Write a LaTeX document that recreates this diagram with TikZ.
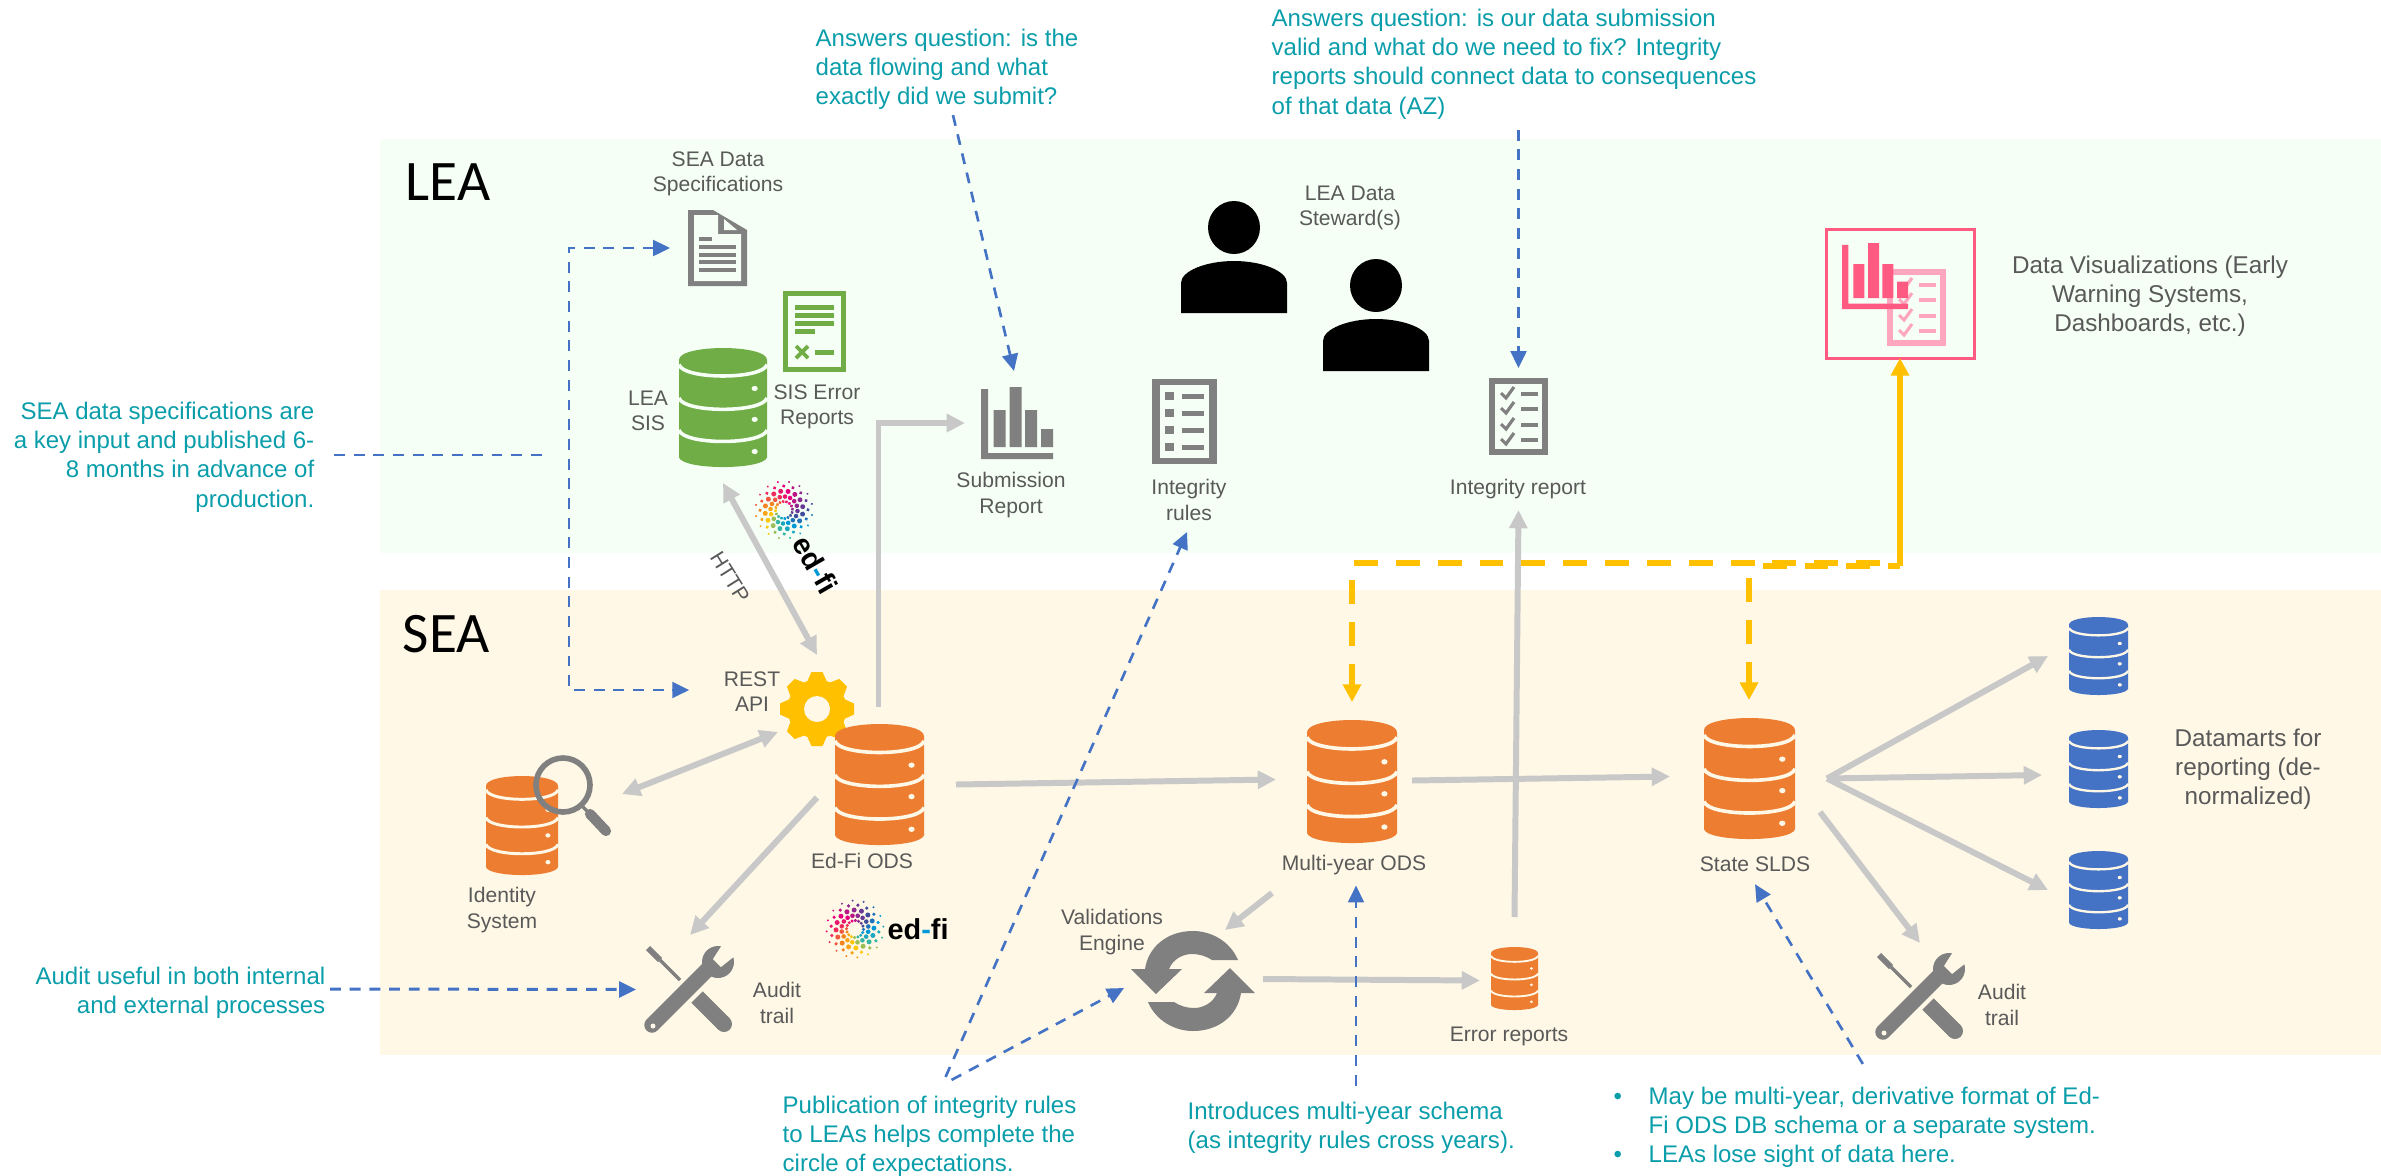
\documentclass[tikz,border=0pt]{standalone}
\usepackage{fontspec}
\setmainfont{Liberation Sans}
\newfontfamily\titlefont{Carlito}
\usetikzlibrary{calc,arrows.meta}

\definecolor{leabg}{RGB}{245,255,245}
\definecolor{seabg}{RGB}{255,248,230}
\definecolor{icongrey}{RGB}{128,128,128}
\definecolor{labelgrey}{RGB}{89,89,89}
\definecolor{arrowgrey}{RGB}{200,200,200}
\definecolor{dbgreen}{RGB}{112,173,71}
\definecolor{dborange}{RGB}{237,125,49}
\definecolor{dbblue}{RGB}{68,114,196}
\definecolor{gearyellow}{RGB}{255,192,0}
\definecolor{tealtext}{RGB}{10,157,170}
\definecolor{vispink}{RGB}{255,91,130}
\definecolor{vislight}{RGB}{255,166,191}
\definecolor{edblue}{RGB}{0,153,216}
\definecolor{edteal}{RGB}{53,182,165}
\definecolor{edyellow}{RGB}{253,199,12}
\definecolor{edorange}{RGB}{245,130,32}
\definecolor{edred}{RGB}{238,42,92}
\definecolor{edmagenta}{RGB}{230,0,126}
\definecolor{edpurple}{RGB}{142,42,143}
\definecolor{ednavy}{RGB}{63,77,156}

\tikzset{
  iconbox/.style={inner sep=0pt, outer sep=0pt, anchor=north west},
  greylabel/.style={inner sep=0pt, align=center, text=labelgrey, font=\fontsize{6pt}{7.15pt}\selectfont},
  biglabel/.style={inner sep=0pt, align=center, text=labelgrey, font=\fontsize{6.9pt}{8.3pt}\selectfont},
  tealnote/.style={inner sep=0pt, text=tealtext, font=\fontsize{6.83pt}{8.3pt}\selectfont},
  regiontitle/.style={inner sep=0pt, anchor=west, font=\titlefont\fontsize{16.3pt}{18pt}\selectfont},
  greyarrow/.style={draw=arrowgrey, line width=1.7pt, -{Triangle[length=5.2pt,width=5pt]}},
  greyboth/.style={draw=arrowgrey, line width=1.7pt, {Triangle[length=5.2pt,width=5pt]}-{Triangle[length=5.2pt,width=5pt]}},
  bluedash/.style={draw=dbblue, line width=0.75pt, dash pattern=on 3.1pt off 2.5pt},
  bluearrow/.style={bluedash, -{Triangle[length=4.8pt,width=4.5pt]}},
  yellowdash/.style={draw=gearyellow, line width=1.55pt, dash pattern=on 6.8pt off 5.1pt},
  yellowarrow/.style={yellowdash, -{Triangle[length=5pt,width=5pt]}},
  yellowsolid/.style={draw=gearyellow, line width=1.55pt, -{Triangle[length=5pt,width=5pt]}}
}

% database stack: name, left, top, width, height, colour, background
\newcommand{\dbicon}[7]{%
  \node[iconbox, minimum width=#4*0.01cm, minimum height=#5*0.01cm] (#1) at (#2,#3) {};
  \begin{scope}[shift={(#2,#3)}, xscale=#4, yscale=#5]
    \fill[#6] (0,0.1) .. controls (0,-0.033) and (1,-0.033) .. (1,0.1) -- (1,0.92)
      .. controls (0.95,1.027) and (0.05,1.027) .. (0,0.92) -- cycle;
    \foreach \e in {0.14,0.42,0.69}
      \draw[#7, line width=#5*0.0085pt] (0,\e) .. controls (0.05,\e+0.127) and (0.95,\e+0.127) .. (1,\e);
    \foreach \e in {0.34,0.6,0.87}
      \fill[#7] (0.86,\e) ellipse [x radius=0.035, y radius=0.022];
  \end{scope}
}

% bar chart: name, left, top, size, colour
\newcommand{\charticon}[5]{%
  \node[iconbox, minimum width=#4*0.01cm, minimum height=#4*0.01cm] (#1) at (#2,#3) {};
  \begin{scope}[shift={(#2,#3)}, scale=#4/72]
    \fill[#5] (0,2) rectangle (7,72) (0,66) rectangle (72,72);
    \fill[#5] (12.5,23) rectangle (24.5,60) (28.5,0) rectangle (40.5,60)
      (44,23) rectangle (56,60) (60,42) rectangle (72,60);
  \end{scope}
}

% checklist page: name, left, top, colour, background
\newcommand{\checkicon}[5]{%
  \node[iconbox, minimum width=59*0.01cm, minimum height=77*0.01cm] (#1) at (#2,#3) {};
  \begin{scope}[shift={(#2,#3)}]
    \fill[#4] (0,0) rectangle (59,77);
    \fill[#5] (6,6) rectangle (53,71);
    \foreach \r in {16,31,47,62} {
      \draw[#4, line width=0.9pt] (12,\r-1) -- (17,\r+4) -- (25,\r-7);
      \fill[#4] (32,\r-2) rectangle (49,\r+2);
    }
  \end{scope}
}

% person: name, left, top
\newcommand{\personicon}[3]{%
  \node[iconbox, minimum width=106*0.01cm, minimum height=112*0.01cm] (#1) at (#2,#3) {};
  \begin{scope}[shift={(#2,#3)}]
    \fill[black] (53,26.5) ellipse [x radius=26, y radius=26.5];
    \fill[black] (0,112) -- (0,82) .. controls (0,70) and (25,60) .. (53,60)
      .. controls (81,60) and (106,70) .. (106,82) -- (106,112) -- cycle;
  \end{scope}
}

% crossed tools: name, left, top, background
\newcommand{\toolicon}[4]{%
  \node[iconbox, minimum width=88*0.01cm, minimum height=87*0.01cm] (#1) at (#2,#3) {};
  \begin{scope}[shift={(#2,#3)}]
    \draw[icongrey, line width=1.7pt] (3,2) -- (15,14);
    \draw[icongrey, line width=0.95pt] (15,14) -- (35,34);
    \draw[icongrey, line width=4.6pt] (52,51) -- (79,78);
    \fill[icongrey] (79,78) circle (8);
    \draw[icongrey, line width=4.4pt, line cap=round] (7,79) -- (63,23);
    \fill[icongrey] (73,16) circle (16);
    \fill[#4] (77,-1) -- (68,13) -- (76,21) -- (91,9) -- (91,-1) -- cycle;
    \fill[#4] (8,80) circle (2.5);
  \end{scope}
}

% ed-fi logo: name, centre x, centre y, angle
\newcommand{\edfilogo}[4]{%
  \node[inner sep=0pt, minimum size=58*0.01cm, circle] (#1) at (#2,#3) {};
  \begin{scope}[shift={(#2,#3)}, rotate=#4]
    \foreach \a/\col in {0/edblue,22.5/edblue!50!edteal,45/edteal,67.5/edteal!50!edyellow,
      90/edyellow,112.5/edyellow!50!edorange,135/edorange,157.5/edorange!50!edred,
      180/edred,202.5/edred!50!edmagenta,225/edmagenta,247.5/edmagenta!50!edpurple,
      270/edpurple,292.5/edpurple!50!ednavy,315/ednavy,337.5/ednavy!50!edblue}
      \foreach \r/\s in {8.5/1.7,13.5/2.3,19/2.5,24/1.8,28.5/1.1}
        \fill[\col] ({\a+2.6*(18-\r)}:\r) circle (\s);
    \node[transform shape, inner sep=0pt, anchor=west, font=\bfseries\fontsize{8.2pt}{9pt}\selectfont]
      (#1text) at (32,0) {ed\textcolor{edblue}{-}fi};
  \end{scope}
}

\begin{document}
\begin{tikzpicture}[x=0.01cm, y=-0.01cm]
  \useasboundingbox (0,0) rectangle (2381,1175);

  % Region bands
  \fill[leabg] (380,139) rectangle (2381,553);
  \fill[seabg] (380,590) rectangle (2381,1055);
  \node[regiontitle] (leatitle) at (405,182) {LEA};
  \node[regiontitle] (seatitle) at (402,634) {SEA};

  % LEA side icons
  \node[iconbox, minimum width=59*0.01cm, minimum height=76*0.01cm] (specdoc) at (688,210) {};
  \begin{scope}[shift={(688,210)}]
    \fill[icongrey] (0,0) -- (25,0) -- (59,20) -- (59,76) -- (0,76) -- cycle;
    \fill[leabg] (6,5) -- (30,5) -- (30,24) -- (53,24) -- (53,71) -- (6,71) -- cycle;
    \fill[leabg] (36,9) -- (36,20) -- (49,20) -- cycle;
    \fill[icongrey] (11,27) rectangle (24,30.5);
    \foreach \r in {35,43,50,58}
      \fill[icongrey] (11,\r) rectangle (48,\r+3.5);
  \end{scope}

  \node[iconbox, minimum width=63*0.01cm, minimum height=81*0.01cm] (siserror) at (783,291) {};
  \begin{scope}[shift={(783,291)}]
    \fill[dbgreen] (0,0) rectangle (63,81);
    \fill[leabg] (5,5) rectangle (58,76);
    \foreach \r in {16,24,32}
      \fill[dbgreen] (12,\r-2.5) rectangle (51,\r+2.5);
    \fill[dbgreen] (12,37.5) rectangle (32,42.5);
    \fill[dbgreen] (32,58.5) rectangle (51,63.5);
    \draw[dbgreen, line width=1.1pt] (13,55) -- (25,67) (25,55) -- (13,67);
  \end{scope}

  \dbicon{leasis}{679}{348}{88}{119}{dbgreen}{leabg}
  \charticon{subreport}{981}{387}{72}{icongrey}

  \node[iconbox, minimum width=65*0.01cm, minimum height=85*0.01cm] (intrules) at (1152,379) {};
  \begin{scope}[shift={(1152,379)}]
    \fill[icongrey] (0,0) rectangle (65,85);
    \fill[leabg] (8,6) rectangle (57,79);
    \foreach \r in {17,34,51,68} {
      \fill[icongrey] (13,\r-4) rectangle (22,\r+4);
      \fill[icongrey] (30,\r-2.5) rectangle (52,\r+2.5);
    }
  \end{scope}

  \checkicon{intreport}{1489}{378}{icongrey}{leabg}
  \personicon{stewardone}{1181}{201}
  \personicon{stewardtwo}{1323}{259}

  % Visualisation frame
  \node[iconbox, draw=vispink, line width=0.85pt, minimum width=148*0.01cm, minimum height=129*0.01cm] (visframe) at (1826,229) {};
  \checkicon{vislist}{1887}{269}{vislight}{leabg}
  \charticon{vischart}{1842}{243}{66}{vispink}

  % SEA side icons
  \node[inner sep=0pt, outer sep=0pt, minimum size=74*0.01cm] (restapi) at (817,709) {};
  \begin{scope}[shift={(817,709)}]
    \foreach \a in {0,45,...,315}
      \fill[gearyellow, rotate=\a] (-5.5,-37) -- (5.5,-37) -- (10,-27) -- (-10,-27) -- cycle;
    \fill[gearyellow] (0,0) circle (29.5);
    \fill[seabg] (0,0) circle (13);
  \end{scope}

  \dbicon{edfiods}{835}{724}{89}{121}{dborange}{seabg}
  \dbicon{myods}{1307}{720}{90}{123}{dborange}{seabg}
  \dbicon{slds}{1704}{718}{91}{121}{dborange}{seabg}
  \dbicon{identity}{486}{776}{72}{99}{dborange}{seabg}
  \draw[icongrey, line width=1.6pt] (563,785) circle (27);
  \draw[icongrey, line width=1pt] (582,806) -- (590,814);
  \draw[icongrey, line width=2.9pt, line cap=round] (590,814) -- (606,831);

  \dbicon{errorreports}{1491}{947}{47}{63}{dborange}{seabg}
  \dbicon{martone}{2069}{617}{59}{78}{dbblue}{seabg}
  \dbicon{marttwo}{2069}{730}{59}{78}{dbblue}{seabg}
  \dbicon{martthree}{2069}{851}{59}{78}{dbblue}{seabg}

  \toolicon{auditone}{645}{946}{seabg}
  \toolicon{audittwo}{1876}{953}{seabg}

  \node[inner sep=0pt, outer sep=0pt, minimum width=124*0.01cm, minimum height=100*0.01cm] (validations) at (1193,981) {};
  \begin{scope}[shift={(1193,981)}]
    \foreach \a in {0,180}
      \fill[icongrey, rotate=\a] (45,-21) .. controls (37,-40) and (18,-50) .. (0,-50)
        .. controls (-27,-50) and (-45,-33) .. (-48,-12) -- (-62,-12) -- (-37,13) -- (-11,-12) -- (-24,-12)
        .. controls (-20,-22) and (-10,-27) .. (-1,-27) .. controls (6,-27) and (13,-25) .. (19,-21) -- cycle;
  \end{scope}

  \edfilogo{edfirotated}{784}{510}{-60}
  \edfilogo{edfiflat}{855}{929}{0}

  % Grey labels
  \node[greylabel] (speclabel) at (718,174) {SEA Data\\Specifications};
  \node[greylabel] (sislabel) at (648,411) {LEA\\SIS};
  \node[greylabel] (errorlabel) at (817,407) {SIS Error\\Reports};
  \node[greylabel] (sublabel) at (1011,495) {Submission\\Report};
  \node[greylabel] (ruleslabel) at (1189,500) {Integrity\\rules};
  \node[greylabel] (reportlabel) at (1518,489) {Integrity report};
  \node[greylabel] (stewardlabel) at (1350,208) {LEA Data\\Steward(s)};
  \node[greylabel, rotate=-58] (httplabel) at (730,577) {HTTP};
  \node[greylabel] (restlabel) at (752,692) {REST\\API};
  \node[greylabel] (identlabel) at (502,910) {Identity\\System};
  \node[greylabel] (odslabel) at (862,861) {Ed-Fi ODS};
  \node[greylabel] (auditlabel) at (777,1003) {Audit\\trail};
  \node[greylabel] (validlabel) at (1112,932) {Validations\\Engine};
  \node[greylabel] (mylabel) at (1354,865) {Multi-year ODS};
  \node[greylabel] (errlabel) at (1509,1036) {Error reports};
  \node[greylabel] (sldslabel) at (1755,864) {State SLDS};
  \node[greylabel] (audittwolabel) at (2002,1005) {Audit\\trail};
  \node[biglabel] (vislabel) at (2150,296) {Data Visualizations (Early\\Warning Systems,\\Dashboards, etc.)};
  \node[biglabel] (martlabel) at (2248,769) {Datamarts for\\reporting (de-\\normalized)};

  % Teal notes
  \node[tealnote, align=left, anchor=west] (flownote) at (815,69) {Answers question: is the\\data flowing and what\\exactly did we submit?};
  \node[tealnote, align=left, anchor=west] (validnote) at (1271,64) {Answers question: is our data submission\\valid and what do we need to fix? Integrity\\reports should connect data to consequences\\of that data (AZ)};
  \node[tealnote, align=right, anchor=east] (specnote) at (315,457) {SEA data specifications are\\a key input and published 6-\\8 months in advance of\\production.};
  \node[tealnote, align=right, anchor=east] (auditnote) at (326,993) {Audit useful in both internal\\and external processes};
  \node[tealnote, align=left, anchor=west] (pubnote) at (782,1136) {Publication of integrity rules\\to LEAs helps complete the\\circle of expectations.};
  \node[tealnote, align=left, anchor=west] (schemanote) at (1187,1128) {Introduces multi-year schema\\(as integrity rules cross years).};
  \node[tealnote, align=left, anchor=west] (sldsnote) at (1613,1127) {\makebox[0.35cm][l]{•}May be multi-year, derivative format of Ed-\\\hspace*{0.35cm}Fi ODS DB schema or a separate system.\\\makebox[0.35cm][l]{•}LEAs lose sight of data here.};

  % Grey connectors
  \draw[greyboth] ($(leasis.south)+(0,16)$) -- ($(restapi.north)+(0,-17)$);
  \draw[greyarrow] ($(edfiods.north)+(-1,-17)$) |- ($(subreport.west)+(-16,0)$);
  \draw[greyboth] ($(identity.north east)+(64,18)$) -- ($(restapi.south west)+(-2,-14)$);
  \draw[greyarrow] ($(edfiods.west)+(-18,13)$) -- ($(auditone.north east)+(-43,-11)$);
  \draw[greyarrow] ($(edfiods.east)+(32,0)$) -- ($(myods.west)+(-31,-2)$);
  \draw[greyarrow] ($(myods.east)+(15,-1)$) -- ($(slds.west)+(-34,-2)$);
  \draw[greyarrow] ($(slds.east)+(32,0)$) -- ($(martone.west)+(-21,0)$);
  \draw[greyarrow] ($(slds.east)+(32,0)$) -- ($(marttwo.west)+(-27,6)$);
  \draw[greyarrow] ($(slds.east)+(32,0)$) -- ($(martthree.west)+(-21,0)$);
  \draw[greyarrow] ($(slds.south east)+(25,-27)$) -- ($(audittwo.north)+(0,-10)$);
  \draw[greyarrow] ($(myods.south west)+(-35,50)$) -- ($(validations.north east)+(-30,-1)$);
  \draw[greyarrow] ($(validations.east)+(8,-2)$) -- ($(errorreports.west)+(-11,2)$);
  \draw[greyarrow] ($(errorreports.north)+(0,-30)$) -- ($(intreport.south)+(0,55)$);

  % Yellow feed
  \coordinate (busleft) at (1354,563);
  \coordinate (buslink) at (1749,566);
  \coordinate (busright) at (1900,566);
  \draw[yellowdash] (busleft) -- (1900,563);
  \draw[yellowdash, dash phase=8pt] (buslink) -- (busright);
  \draw[yellowsolid] (busright) -- (visframe.south);
  \draw[yellowarrow] ($(busleft)+(-2,17)$) -- ($(myods.north)+(0,-18)$);
  \draw[yellowarrow] ($(buslink)+(0,12)$) -- ($(slds.north)+(-0.5,-18)$);

  % Blue dashed connectors
  \coordinate (specgap) at (547,455);
  \coordinate (specbustop) at (569,248);
  \coordinate (specbusbottom) at (569,690);
  \draw[bluedash] ($(specnote.east)+(19,-2)$) -- (specgap);
  \draw[bluedash, {Triangle[length=4.8pt,width=4.5pt]}-{Triangle[length=4.8pt,width=4.5pt]}] ($(specdoc.west)+(-18,0)$) -- (specbustop) -- (specbusbottom) -- ($(restlabel.west)+(-34,-2)$);
  \draw[bluearrow, line width=0.85pt] ($(auditnote.east)+(4,-4)$) -- ($(auditone.west)+(-9,0)$);
  \draw[bluearrow] ($(flownote.south)+(6,5)$) -- ($(subreport.north)+(-3,-16)$);
  \draw[bluearrow] ($(validnote.south -| intreport.north)+(0,10)$) -- ($(intreport.north)+(0,-10)$);
  \draw[bluearrow] ($(pubnote.north)+(16,-18)$) -- ($(ruleslabel.south)+(-2,11)$);
  \draw[bluearrow] ($(pubnote.north)+(22,-15)$) -- ($(validations.west)+(-7,7)$);
  \draw[bluearrow] ($(schemanote.north -| mylabel.south)+(2,-16)$) -- ($(mylabel.south)+(2,10)$);
  \draw[bluearrow] ($(sldsnote.north)+(6,-22)$) -- ($(sldslabel.south)+(0,12)$);
\end{tikzpicture}
\end{document}
